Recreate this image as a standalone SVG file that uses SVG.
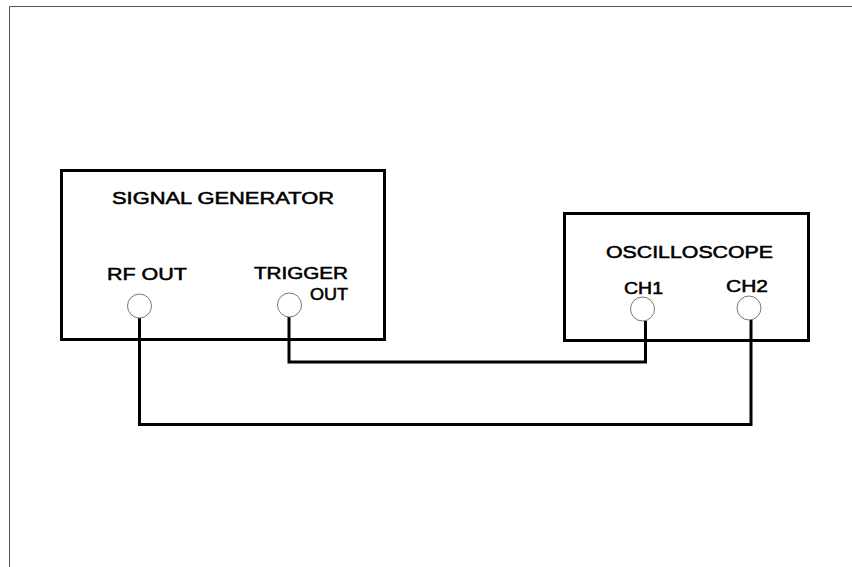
<svg xmlns="http://www.w3.org/2000/svg" width="852" height="567" viewBox="0 0 852 567">
<style>
.box{fill:none;stroke:#000;stroke-width:3}
.port{fill:#fff;stroke:#777;stroke-width:1}
.wire{fill:none;stroke:#000;stroke-width:3;stroke-linejoin:miter}
.lbl{font-family:"Liberation Sans",Arial,sans-serif;font-size:17.4px;fill:#000;stroke:#000;stroke-width:0.55px}
</style>
<rect width="852" height="567" fill="#fff"/>
<path d="M9.5,567 V6.5 H852" fill="none" stroke="#555" stroke-width="1"/>
<g id="connectors">
<polyline class="wire" points="139.5,318 139.5,424.5 751,424.5 751,320"/>
<polyline class="wire" points="289,317 289,362 645.5,362 645.5,321"/>
</g>
<g id="signal-generator">
<rect class="box" x="61.5" y="170.5" width="323" height="169"/>
<text class="lbl" x="112" y="203.5" textLength="222" lengthAdjust="spacingAndGlyphs">SIGNAL GENERATOR</text>
<text class="lbl" x="107" y="280" textLength="80" lengthAdjust="spacingAndGlyphs">RF OUT</text>
<text class="lbl" x="254" y="279" textLength="94" lengthAdjust="spacingAndGlyphs">TRIGGER</text>
<text class="lbl" x="310" y="299.5" textLength="38" lengthAdjust="spacingAndGlyphs">OUT</text>
<circle class="port" cx="139.5" cy="306" r="12"/>
<circle class="port" cx="289.5" cy="305" r="12"/>
</g>
<g id="oscilloscope">
<rect class="box" x="564.5" y="213.5" width="244" height="127"/>
<text class="lbl" x="606" y="257.5" textLength="167" lengthAdjust="spacingAndGlyphs">OSCILLOSCOPE</text>
<text class="lbl" x="624" y="294" textLength="39" lengthAdjust="spacingAndGlyphs">CH1</text>
<text class="lbl" x="726" y="292" textLength="42" lengthAdjust="spacingAndGlyphs">CH2</text>
<circle class="port" cx="642.5" cy="309" r="12"/>
<circle class="port" cx="749" cy="308" r="12"/>
</g>
</svg>
